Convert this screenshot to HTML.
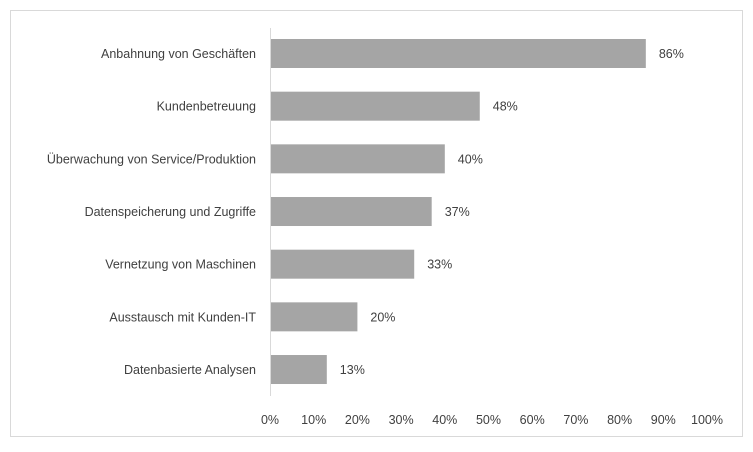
<!DOCTYPE html>
<html><head><meta charset="utf-8"><style>
body{margin:0;background:#fff;}
svg text{font-family:"Liberation Sans",sans-serif;font-size:12.5px;fill:#404040;}
</style></head><body>
<svg width="753" height="447">
<rect x="10.5" y="10.5" width="732" height="426" fill="#fff" stroke="#d9d9d9"/>
<g id="plot"></g>
</svg>
<script>
const categories=["Anbahnung von Geschäften","Kundenbetreuung","Überwachung von Service/Produktion","Datenspeicherung und Zugriffe","Vernetzung von Maschinen","Ausstausch mit Kunden-IT","Datenbasierte Analysen"];
const values=[86,48,40,37,33,20,13];
const ticks=[0,10,20,30,40,50,60,70,80,90,100];
const ns="http://www.w3.org/2000/svg";
const g=document.getElementById('plot');
const x0=270,xw=437,top0=39,step=52.67,bh=29;
const X=v=>x0+v/100*xw;
function el(t,a){const e=document.createElementNS(ns,t);for(const k in a)e.setAttribute(k,a[k]);g.appendChild(e);return e;}
values.forEach((v,i)=>{
 const y=top0+i*step;
 const r=el('rect',{x:x0,y:y,width:X(v)-x0,height:bh,fill:'#a5a5a5'});
 
 
 const l=el('text',{x:X(v)+13,y:y+bh/2+4.5});l.textContent=v+'%';
 
 
 const c=el('text',{x:256,y:y+bh/2+4.5,'text-anchor':'end'});c.textContent=categories[i];
 
 
});
const ax=el('line',{x1:x0+0.5,x2:x0+0.5,y1:28,y2:396,stroke:'#d9d9d9'});


ticks.forEach(t=>{
 const e=el('text',{x:X(t),y:424,'text-anchor':'middle'});e.textContent=t+'%';
 
 
});
</script>
</body></html>
